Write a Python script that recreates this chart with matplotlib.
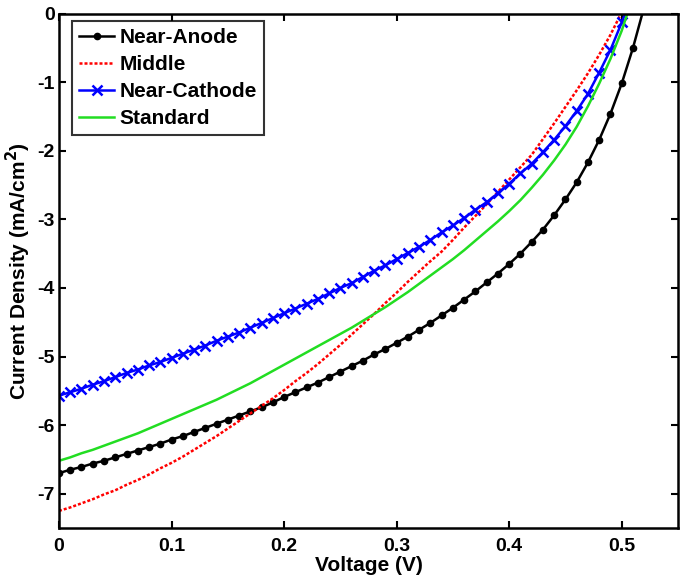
import numpy as np
import matplotlib
matplotlib.use("Agg")
import matplotlib.pyplot as plt

plt.rcParams['font.family'] = ['Liberation Sans', 'DejaVu Sans']
plt.rcParams['font.weight'] = 'bold'
plt.rcParams['mathtext.default'] = 'bf'

voltage_anode = [i / 100 for i in range(53)]
voltage_cathode = [i / 100 for i in range(52)]
voltage_middle = [i / 100 for i in range(51)]
voltage_standard = [i / 100 for i in range(52)]

near_anode = [-6.70, -6.65, -6.61, -6.56, -6.52, -6.47, -6.42, -6.37, -6.32, -6.27,
              -6.21, -6.16, -6.10, -6.04, -5.98, -5.92, -5.86, -5.80, -5.74, -5.67,
              -5.59, -5.52, -5.45, -5.38, -5.30, -5.22, -5.14, -5.06, -4.97, -4.89,
              -4.80, -4.71, -4.61, -4.51, -4.40, -4.29, -4.17, -4.05, -3.92, -3.79,
              -3.65, -3.50, -3.33, -3.15, -2.94, -2.71, -2.46, -2.17, -1.84, -1.46,
              -1.02, -0.50, 0.10]

near_cathode = [-5.57, -5.52, -5.47, -5.41, -5.36, -5.30, -5.24, -5.19, -5.13, -5.08,
                -5.02, -4.96, -4.90, -4.84, -4.77, -4.71, -4.65, -4.58, -4.51, -4.44,
                -4.37, -4.30, -4.23, -4.16, -4.08, -4.00, -3.93, -3.84, -3.75, -3.67,
                -3.58, -3.49, -3.40, -3.30, -3.19, -3.09, -2.98, -2.86, -2.75, -2.62,
                -2.48, -2.33, -2.19, -2.02, -1.84, -1.64, -1.42, -1.17, -0.86, -0.53,
                -0.13, 0.30]

middle = [-7.25, -7.20, -7.14, -7.08, -7.01, -6.95, -6.87, -6.80, -6.72, -6.63,
          -6.55, -6.46, -6.36, -6.26, -6.16, -6.05, -5.94, -5.83, -5.72, -5.61,
          -5.49, -5.36, -5.24, -5.11, -4.97, -4.83, -4.68, -4.53, -4.38, -4.22,
          -4.07, -3.91, -3.76, -3.61, -3.47, -3.30, -3.12, -2.95, -2.78, -2.60,
          -2.42, -2.24, -2.06, -1.83, -1.60, -1.36, -1.12, -0.87, -0.60, -0.31,
          0.02]

standard = [-6.52, -6.47, -6.41, -6.36, -6.30, -6.24, -6.18, -6.12, -6.05, -5.98,
            -5.91, -5.84, -5.77, -5.70, -5.63, -5.55, -5.47, -5.39, -5.30, -5.21,
            -5.12, -5.03, -4.94, -4.85, -4.76, -4.67, -4.58, -4.48, -4.38, -4.28,
            -4.17, -4.06, -3.94, -3.82, -3.70, -3.58, -3.45, -3.31, -3.17, -3.03,
            -2.88, -2.72, -2.54, -2.35, -2.14, -1.91, -1.65, -1.35, -1.02, -0.66,
            -0.25, 0.25]

x_ticks = [0, 0.1, 0.2, 0.3, 0.4, 0.5]
x_tick_labels = ['0', '0.1', '0.2', '0.3', '0.4', '0.5']
y_ticks = [-7, -6, -5, -4, -3, -2, -1, 0]
y_tick_labels = ['-7', '-6', '-5', '-4', '-3', '-2', '-1', '0']

fig = plt.figure(figsize=(6.85, 5.83), dpi=100)
ax = fig.add_axes([0.0861, 0.0943, 0.9037, 0.8825])

ax.plot(voltage_anode, near_anode, color='black', lw=1.8, marker='o', ms=4.5,
        label='Near-Anode')
ax.plot(voltage_middle, middle, color='#ff0000', lw=1.8, ls=(0, (1.2, 0.8)),
        label='Middle')
ax.plot(voltage_cathode, near_cathode, color='#0000ff', lw=1.8, marker='x', ms=7,
        mew=1.8, label='Near-Cathode')
ax.plot(voltage_standard, standard, color='#22dd22', lw=1.8, label='Standard')

ax.set_xlim(0, 0.55)
ax.set_ylim(-7.5, 0)
ax.set_xticks(x_ticks)
ax.set_xticklabels(x_tick_labels)
ax.set_yticks(y_ticks)
ax.set_yticklabels(y_tick_labels)
ax.tick_params(direction='in', length=5, width=1.5, top=True, right=True,
               labelsize=14)
ax.tick_params(axis='y', pad=3)
ax.tick_params(axis='x', pad=7)
for lab in ax.get_xticklabels() + ax.get_yticklabels():
    lab.set_fontweight('bold')
for sp in ax.spines.values():
    sp.set_linewidth(1.8)

ax.set_xlabel('Voltage (V)', fontsize=15, fontweight='bold', labelpad=1)
ax.set_ylabel(r'Current Density (mA/cm$^{2}$)', fontsize=15, fontweight='bold',
              labelpad=3)

leg = ax.legend(loc='upper left', bbox_to_anchor=(0.0205, 0.9854),
                borderaxespad=0, fontsize=15, frameon=True, fancybox=False,
                edgecolor='black', handlelength=1.7, handletextpad=0.25,
                borderpad=0.35, labelspacing=0.38)
leg.get_frame().set_linewidth(1.5)
for t in leg.get_texts():
    t.set_fontweight('bold')

fig.savefig('out.png', dpi=100)
